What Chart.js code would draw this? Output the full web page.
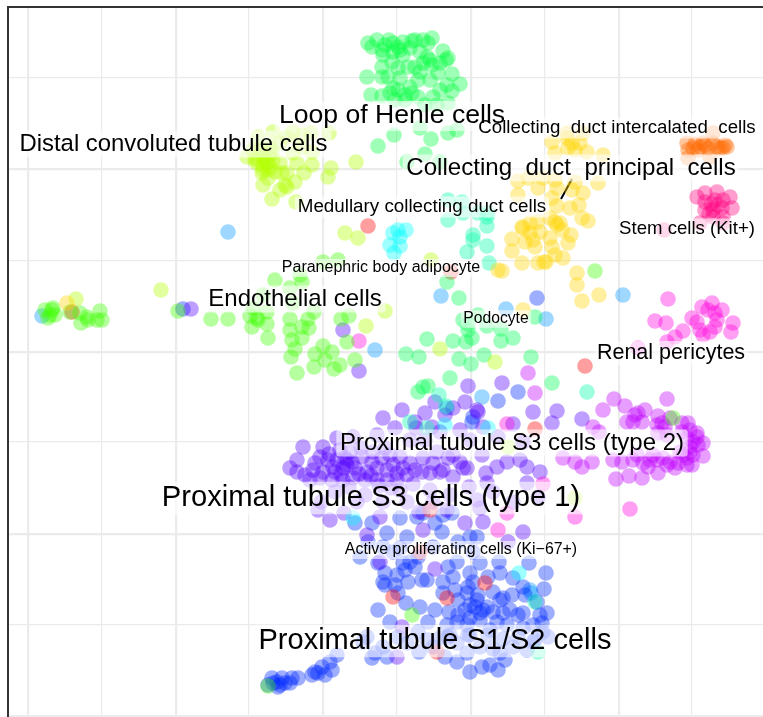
<!DOCTYPE html>
<html><head><meta charset="utf-8">
<script src="https://cdn.jsdelivr.net/npm/chart.js@4"></script>
<style>html,body{margin:0;padding:0;background:#fff}canvas{display:block}</style>
</head><body><canvas id="c" width="763" height="717"></canvas>
<script>
const loopOfHenle=[[45,309],[54,312],[66,312],[70,309],[80,310],[89,311],[92,312],[100,312],[109,314],[105,309],[49,305],[59,302],[60,297],[70,300],[77,302],[80,297],[97,300],[104,295],[107,292],[120,301],[125,294],[123,292],[59,285],[75,284],[85,285],[92,285],[100,289],[109,287],[117,289],[44,275],[59,275],[65,275],[95,272],[107,272],[115,279],[129,278],[137,268],[124,267],[129,261],[48,257],[59,256],[67,259],[70,264],[75,262],[82,257],[87,265],[89,259],[95,255],[110,255],[114,247],[125,249],[97,224],[125,219],[134,222],[71,217],[55,206],[108,213],[102,198],[117,190],[84,190],[62,307],[75,305],[87,304],[69,290],[97,280],[77,274],[117,262],[72,252],[82,252],[102,247]];
const distal=[[-65,215],[-50,220],[-30,220],[-12,219],[6,219],[-76,195],[-66,189],[-60,195],[-56,189],[-50,192],[-63,202],[-70,202],[-53,205],[-60,182],[-53,185],[-43,189],[-30,199],[-21,205],[-11,200],[-26,189],[-11,187],[-19,179],[-36,179],[-28,170],[-38,167],[-60,167],[-55,174],[-61,179],[-43,162],[-51,153],[-27,150],[8,184],[5,175],[33,190],[22,119],[35,114],[-60,187],[-66,194],[-58,192],[-53,197],[-68,192],[-61,202],[-51,200],[-55,182],[-48,180],[-41,179],[-36,165],[-43,209],[-36,215],[-21,217],[-162,62],[-247,53],[43,26],[108,92],[117,3],[172,-10],[62,41],[185,-95],[252,-146]];
const principal=[[229,210],[244,214],[249,209],[257,209],[245,204],[252,202],[264,200],[232,199],[280,197],[275,169],[244,219],[260,219],[195,171],[205,174],[220,174],[215,164],[232,172],[234,164],[252,170],[249,162],[260,159],[229,154],[234,146],[247,144],[256,147],[259,134],[265,131],[195,157],[199,125],[207,129],[214,130],[227,134],[237,129],[239,122],[217,120],[207,119],[200,124],[189,113],[189,101],[202,110],[210,112],[212,105],[227,114],[248,117],[245,109],[229,105],[232,97],[240,94],[215,89],[221,90],[199,89],[179,81],[234,127],[232,130],[254,79],[254,67],[259,51],[276,57],[175,82],[223,90],[200,42],[-256,49]];
const intercalated=[[364,209],[372,208],[380,209],[390,209],[402,207],[397,204],[385,204],[375,202],[365,202],[390,219],[365,194],[387,195],[404,205],[394,205],[377,205],[370,204],[382,207],[400,204]];
const stemCells=[[374,155],[382,159],[394,160],[407,155],[382,150],[392,152],[400,152],[409,144],[390,142],[382,142],[399,144],[390,135],[400,135],[377,129],[400,129],[341,122],[388,148],[395,147],[386,138]];
const pericytes=[[345,53],[332,31],[343,29],[369,34],[379,45],[389,49],[399,42],[392,39],[385,42],[374,30],[410,29],[408,20],[392,25],[387,20],[377,22],[380,17],[360,21],[352,15],[344,10],[394,32],[315,4],[36,11],[184,-72],[175,-178],[184,-161],[220,-132],[307,-157],[252,-165]];
const s3Type2=[[344,-47],[291,-47],[302,-54],[280,-58],[322,-58],[312,-63],[335,-64],[304,-70],[310,-70],[319,-70],[334,-73],[342,-75],[359,-71],[347,-66],[367,-78],[374,-81],[270,-75],[276,-80],[344,-83],[335,-81],[364,-86],[370,-90],[375,-93],[380,-91],[367,-95],[360,-103],[370,-103],[380,-104],[364,-106],[352,-116],[335,-121],[319,-126],[306,-124],[293,-127],[299,-110],[290,-108],[310,-108],[320,-111],[327,-108],[334,-108],[340,-106],[347,-110],[355,-111],[325,-115],[344,-113],[269,-110],[259,-115],[252,-110],[240,-106],[369,-113],[364,-113],[374,-85],[365,-71],[315,-61],[339,-71],[359,-80],[314,-103],[330,-103],[357,-100],[367,-100],[205,-21],[212,-41]];
const s3Type1=[[-20,-95],[-26,-108],[-33,-116],[-26,-120],[-18,-123],[-8,-111],[-3,-105],[0,-95],[14,-86],[60,-66],[79,-58],[72,-76],[102,-61],[54,-83],[30,-85],[5,-108],[14,-108],[22,-106],[29,-110],[39,-105],[49,-110],[59,-106],[67,-103],[77,-105],[87,-111],[0,-120],[12,-120],[20,-116],[32,-116],[44,-120],[54,-116],[64,-118],[74,-121],[84,-123],[-13,-128],[-3,-126],[9,-128],[20,-128],[30,-126],[42,-128],[54,-128],[64,-128],[74,-128],[24,-108],[24,-113],[100,-106],[110,-111],[117,-120],[107,-121],[114,-100],[99,-120],[140,-116],[130,-103],[159,-103],[163,-121],[164,-131],[154,-148],[-5,-158],[7,-168],[21,-161],[57,-165],[44,-183],[100,-178],[124,-158],[142,-171],[160,-170],[145,-34],[179,-31],[210,-60],[234,-59],[229,-71],[259,-67],[92,-70],[112,-50],[122,-63],[130,-56],[142,-50],[155,-60],[154,-58],[109,-75],[137,-110],[144,-116],[174,-115],[184,-110],[197,-108],[204,-115],[217,-120],[204,-131],[157,-156],[185,-190],[200,-180],[125,-106],[120,-118],[20,22],[36,-19],[-132,43],[102,-88],[117,-80],[137,-78],[147,-88],[93,-76],[87,-88],[42,-143],[77,-138],[107,-138],[127,-143],[57,-210],[112,-217],[74,-305],[79,-275],[17,-98],[27,-100],[38,-96],[50,-100],[62,-96],[10,-115],[18,-122],[36,-122],[48,-124],[70,-113],[80,-116],[92,-118],[-10,-118],[6,-102],[56,-134],[68,-136],[90,-132],[26,-135],[12,-140],[-2,-150],[34,-150],[60,-150],[84,-150],[110,-150],[96,-160],[130,-125],[146,-135],[170,-140],[190,-150],[215,-145],[160,-75],[175,-85],[190,-72],[200,-90]];
const s1s2=[[55,-211],[62,-221],[60,-230],[72,-233],[75,-241],[74,-223],[80,-211],[87,-210],[92,-215],[85,-230],[99,-228],[104,-228],[120,-230],[120,-241],[134,-210],[147,-221],[145,-235],[157,-211],[176,-210],[177,-221],[170,-240],[180,-246],[189,-243],[190,-226],[206,-211],[223,-221],[221,-237],[214,-250],[200,-261],[224,-261],[219,-271],[55,-258],[67,-270],[83,-251],[97,-255],[112,-258],[105,-270],[126,-260],[135,-248],[144,-241],[154,-248],[164,-255],[157,-261],[147,-266],[135,-263],[134,-270],[124,-273],[144,-273],[157,-268],[174,-270],[180,-261],[170,-260],[184,-273],[195,-263],[200,-276],[210,-273],[220,-280],[204,-298],[190,-295],[177,-301],[144,-301],[122,-305],[134,-310],[147,-320],[159,-315],[167,-313],[175,-318],[182,-308],[96,-300],[64,-305],[52,-301],[49,-306],[14,-303],[7,-310],[-1,-315],[-8,-320],[2,-323],[-11,-323],[9,-318],[-5,-321],[-25,-326],[-31,-326],[-41,-326],[-51,-326],[-55,-333],[-45,-335],[-38,-331],[-46,-330],[-50,-331],[-43,-333],[-33,-331],[44,-285],[117,-286],[134,-291],[157,-295],[104,-288],[84,-291],[32,-171],[49,-171],[77,-166],[94,-165],[112,-171],[119,-180],[84,-185],[64,-181],[77,-196],[120,-163],[37,-205],[100,-161],[129,-161],[154,-185],[147,-185],[149,-70],[150,-65],[195,-40],[175,-49],[214,54],[-140,43],[147,-253],[152,-255],[160,-258],[142,-258],[155,-243],[130,-225],[150,-230],[165,-225],[200,-235],[40,-290],[60,-295],[75,-285],[95,-280],[110,-295],[125,-285],[145,-283],[165,-283],[180,-287],[195,-285],[210,-290],[225,-285],[170,-297],[70,-200],[95,-205],[110,-195],[135,-190],[60,-195],[45,-190],[150,-200],[125,-215],[132,-238],[177,-248],[187,-258],[202,-243],[212,-288],[217,-263],[167,-278],[147,-283],[127,-283],[62,-233],[82,-218]];
const endothelial=[[-278,42],[-271,42],[-275,34],[-268,37],[-253,40],[-243,39],[-242,29],[-236,35],[-235,32],[-226,32],[-223,41],[-221,32],[-270,44],[-273,37],[-145,41],[-112,33],[-95,33],[-70,44],[-73,36],[-65,32],[-56,40],[-71,25],[-56,28],[-66,34],[-55,14],[-33,33],[-33,22],[-15,33],[-21,25],[-14,24],[-9,40],[-21,14],[-31,12],[-28,3],[-32,-5],[-26,-21],[-9,-15],[-8,-2],[0,6],[2,-8],[9,0],[11,-17],[17,-13],[32,-8],[18,33],[26,36],[24,10],[-48,72],[-23,77],[-33,64],[-21,70],[0,90],[15,92],[-60,57],[-30,49],[272,81],[89,-263],[-55,-334],[350,-66]];
const podocyte=[[124,70],[136,54],[155,37],[140,32],[145,22],[164,26],[178,23],[212,35],[104,13],[130,11],[143,10],[149,14],[178,11],[190,14],[83,-2],[96,-5],[136,-7],[148,-12],[161,-3],[208,-5],[127,-26],[229,-31],[105,-34],[100,-35],[95,-40],[145,28]];
const medullary=[[125,152],[139,150],[125,132],[140,139],[164,135],[164,126],[150,117],[165,139],[155,139],[144,100],[164,106],[166,89],[150,112],[264,-40],[116,-43],[123,-54],[87,-70],[104,-76],[215,-300],[212,-250]];
const adipocyte=[[67,107],[77,106],[71,99],[75,122],[83,122],[70,119],[77,115],[165,-76],[122,-73],[30,-166],[196,-221]];
const proliferating=[[-95,120],[118,56],[183,43],[223,33],[300,57],[52,2],[159,-45],[208,-241],[-281,36],[207,-238],[124,-56]];
const scattered=[[45,126],[128,80],[262,-14],[212,-77],[-251,40],[107,-158],[70,-245],[124,-246],[162,-231],[114,-300],[97,-200]];
const repelSegment=[[249,173],[238,153]];

const labelNames=["Loop of Henle cells","Distal convoluted tubule cells","Collecting  duct intercalated  cells","Collecting  duct  principal  cells","Medullary collecting duct cells","Stem cells (Kit+)","Paranephric body adipocyte","Endothelial cells","Podocyte","Renal pericytes","Proximal tubule S3 cells (type 2)","Proximal tubule S3 cells (type 1)","Active proliferating cells (Ki\u221267+)","Proximal tubule S1/S2 cells"];
const labelX=[69,-149.5,294,248,99,364,58,-28,173,348,189,48,138,112];
const labelY=[236,208,224,184,145,123,84,53,33,-1,-91,-146,-198,-289];
const labelSize=[26.6,23.9,18.7,24.1,18.8,18.6,16,24,15.7,21.5,24,29.2,15.9,29];

const xTicks=[-295,-221,-147,-74,0,74,148,222,296,369];
const yTicks=[274,183,91,0,-90,-182,-273,-364];
const xMajor=[-295,-147,0,148,296];
const yMajor=[183,0,-182,-364];

const toPts=a=>a.map(p=>({x:p[0],y:p[1]}));
const set=(label,a,c)=>({label,data:toPts(a),backgroundColor:c,borderWidth:0,pointRadius:7.8,pointHoverRadius:7.8,showLine:false});

const labelPlugin={id:'labels',afterDatasetsDraw(chart){
  const ctx=chart.ctx,xs=chart.scales.x,ys=chart.scales.y;
  ctx.save();ctx.textAlign='center';ctx.textBaseline='middle';
  labelNames.forEach((t,i)=>{
    const px=xs.getPixelForValue(labelX[i]),py=ys.getPixelForValue(labelY[i]),s=labelSize[i];
    ctx.font=s+'px "Liberation Sans", Arial, sans-serif';
    const w=ctx.measureText(t).width+s*0.3,h=s*1.12;
    ctx.fillStyle='rgba(255,255,255,0.6)';
    ctx.beginPath();ctx.roundRect(px-w/2,py-h/2,w,h,3);ctx.fill();
  });
  labelNames.forEach((t,i)=>{
    const px=xs.getPixelForValue(labelX[i]),py=ys.getPixelForValue(labelY[i]),s=labelSize[i];
    ctx.font=s+'px "Liberation Sans", Arial, sans-serif';
    ctx.fillStyle='#000';
    ctx.fillText(t,px,py);
  });
  ctx.restore();
}};

new Chart(document.getElementById('c'),{
  type:'scatter',
  data:{datasets:[
    set('Collecting duct principal cells',principal,'rgba(255,213,0,0.38)'),
    set('Collecting duct intercalated cells',intercalated,'rgba(255,106,0,0.38)'),
    set('Stem cells (Kit+)',stemCells,'rgba(255,0,128,0.38)'),
    set('Loop of Henle cells',loopOfHenle,'rgba(0,255,64,0.38)'),
    set('Distal convoluted tubule cells',distal,'rgba(179,255,0,0.38)'),
    set('Endothelial cells',endothelial,'rgba(64,255,0,0.38)'),
    set('Podocyte',podocyte,'rgba(0,255,85,0.38)'),
    set('Medullary collecting duct cells',medullary,'rgba(0,255,170,0.38)'),
    set('Paranephric body adipocyte',adipocyte,'rgba(0,255,255,0.38)'),
    set('Scattered',scattered,'rgba(255,0,0,0.38)'),
    set('Renal pericytes',pericytes,'rgba(255,0,221,0.38)'),
    set('Proximal tubule S3 cells (type 2)',s3Type2,'rgba(191,0,255,0.38)'),
    set('Proximal tubule S3 cells (type 1)',s3Type1,'rgba(85,0,255,0.38)'),
    set('Proximal tubule S1/S2 cells',s1s2,'rgba(0,43,255,0.38)'),
    set('Active proliferating cells',proliferating,'rgba(0,149,255,0.38)'),
    {label:'repel',type:'line',data:toPts(repelSegment),borderColor:'#000',borderWidth:2,pointRadius:0,fill:false}
  ]},
  options:{
    responsive:false,animation:false,devicePixelRatio:1,
    layout:{autoPadding:false,padding:{left:8,top:7,right:0,bottom:0}},
    plugins:{legend:{display:false},tooltip:{enabled:false}},
    scales:{
      x:{type:'linear',position:'top',min:-315,max:440,
        afterBuildTicks:a=>{a.ticks=xTicks.map(v=>({value:v}))},
        afterFit:a=>{a.height=0},
        ticks:{display:false},
        grid:{drawTicks:false,color:'#ebebeb',lineWidth:c=>xMajor.includes(c.tick&&c.tick.value)?2.2:1.2},
        border:{display:true,color:'#333333',width:2}},
      y:{type:'linear',position:'left',min:-365,max:345,
        afterBuildTicks:a=>{a.ticks=yTicks.map(v=>({value:v}))},
        afterFit:a=>{a.width=0},
        ticks:{display:false},
        grid:{drawTicks:false,color:'#ebebeb',lineWidth:c=>yMajor.includes(c.tick&&c.tick.value)?2.2:1.2},
        border:{display:true,color:'#333333',width:2}}
    }
  },
  plugins:[labelPlugin]
});
</script></body></html>
